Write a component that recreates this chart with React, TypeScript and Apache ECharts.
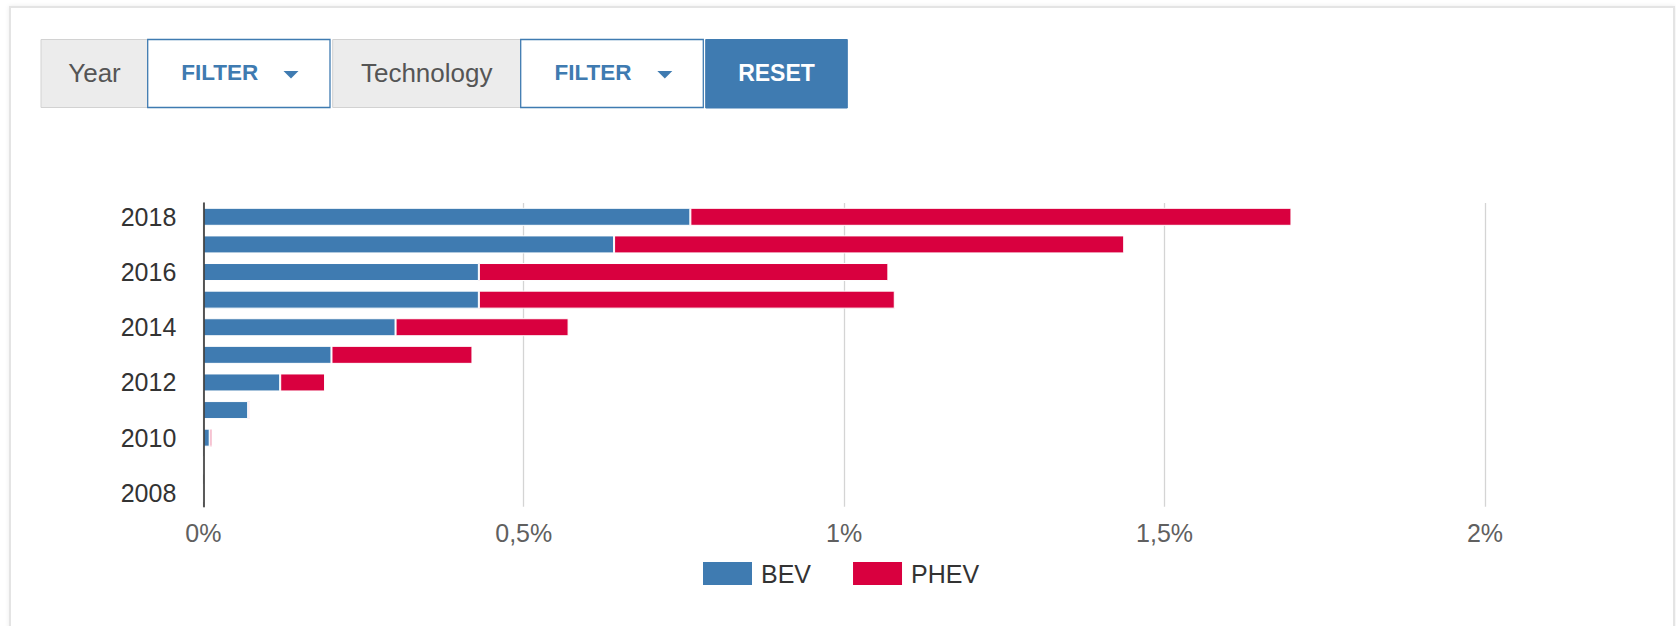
import React, { useEffect, useRef } from "react";
import * as echarts from "echarts";

const years = ["2008", "2009", "2010", "2011", "2012", "2013", "2014", "2015", "2016", "2017", "2018"];
const bevValues = [0, 0, 0.01, 0.07, 0.12, 0.2, 0.3, 0.43, 0.43, 0.641, 0.76];
const phevValues = [0, 0, 0.004, 0.003, 0.07, 0.22, 0.27, 0.649, 0.639, 0.796, 0.938];
const seriesNames = ["BEV", "PHEV"];
const filterLabels = ["Year", "FILTER", "Technology", "FILTER", "RESET"];

const BLUE = "#3f7bb1";
const RED = "#d9003f";
const FONT = "'Liberation Sans', Arial, sans-serif";

function caret(x: number, y: number) {
  return {
    type: "polygon",
    shape: { points: [[x, y], [x + 15, y], [x + 7.5, y + 7.5]] },
    style: { fill: BLUE },
    silent: true,
  };
}

export default function App() {
  const ref = useRef<HTMLDivElement>(null);

  useEffect(() => {
    if (!ref.current) return;
    const chart = echarts.init(ref.current, null, { renderer: "svg" });
    const cellY = 39.5;
    const cellH = 68;
    const textY = 72.8;
    const option: any = {
      animation: false,
      textStyle: { fontFamily: FONT },
      graphic: [
        {
          type: "rect",
          shape: { x: 10, y: 7, width: 1664, height: 680 },
          style: { fill: "#fff", stroke: "#e4e4e4", lineWidth: 2, shadowBlur: 4, shadowColor: "rgba(0,0,0,0.08)" },
          z: -10,
          silent: true,
        },
        { type: "rect", shape: { x: 41, y: cellY, width: 106.5, height: cellH }, style: { fill: "#ececec", stroke: "#d2d2d2", lineWidth: 1 } },
        { type: "rect", shape: { x: 147.7, y: cellY, width: 182.3, height: cellH }, style: { fill: "#fff", stroke: BLUE, lineWidth: 1.3 } },
        { type: "rect", shape: { x: 332.7, y: cellY, width: 188, height: cellH }, style: { fill: "#ececec", stroke: "#d2d2d2", lineWidth: 1 } },
        { type: "rect", shape: { x: 520.7, y: cellY, width: 182.6, height: cellH }, style: { fill: "#fff", stroke: BLUE, lineWidth: 1.3 } },
        { type: "rect", shape: { x: 705.7, y: cellY, width: 141.6, height: cellH + 0.5 }, style: { fill: BLUE, stroke: BLUE, lineWidth: 1 } },
        { type: "text", x: 94.5, y: textY, style: { text: filterLabels[0], fill: "#555", font: `26px ${FONT}`, textAlign: "center", textVerticalAlign: "middle" } },
        { type: "text", x: 219.7, y: textY, style: { text: filterLabels[1], fill: BLUE, font: `bold 22.5px ${FONT}`, textAlign: "center", textVerticalAlign: "middle" } },
        caret(283.5, 71),
        { type: "text", x: 426.7, y: textY, style: { text: filterLabels[2], fill: "#555", font: `26px ${FONT}`, textAlign: "center", textVerticalAlign: "middle" } },
        { type: "text", x: 593, y: textY, style: { text: filterLabels[3], fill: BLUE, font: `bold 22.5px ${FONT}`, textAlign: "center", textVerticalAlign: "middle" } },
        caret(657.3, 71),
        { type: "text", x: 776.5, y: textY, style: { text: filterLabels[4], fill: "#fff", font: `bold 23px ${FONT}`, textAlign: "center", textVerticalAlign: "middle" } },
      ],
      grid: { left: 203.3, right: 191, top: 203, bottom: 119.3, containLabel: false },
      legend: {
        data: seriesNames,
        left: 696,
        top: 555,
        icon: "rect",
        itemWidth: 51,
        itemHeight: 25,
        itemGap: 40,
        textStyle: { fontSize: 25, color: "#333", padding: [0, 0, 0, 3], fontFamily: FONT },
      },
      xAxis: {
        type: "value",
        min: 0,
        max: 2,
        interval: 0.5,
        axisLine: { show: false },
        axisTick: { show: false },
        splitLine: { show: true, lineStyle: { color: "#d4d4d4", width: 1.3 } },
        axisLabel: {
          fontSize: 25,
          color: "#606060",
          margin: 14,
          fontFamily: FONT,
          formatter: (v: number) => String(v).replace(".", ",") + "%",
        },
      },
      yAxis: {
        type: "category",
        data: years,
        z: 5,
        axisLine: { show: true, lineStyle: { color: "#333", width: 1.6 } },
        axisTick: { show: false },
        axisLabel: { fontSize: 25, color: "#333", margin: 27, interval: 1, fontFamily: FONT },
      },
      series: [
        {
          name: seriesNames[0],
          type: "bar",
          stack: "total",
          barWidth: 18,
          data: bevValues,
          itemStyle: { color: BLUE, borderColor: "#fff", borderWidth: 1 },
        },
        {
          name: seriesNames[1],
          type: "bar",
          stack: "total",
          barWidth: 18,
          data: phevValues,
          itemStyle: { color: RED, borderColor: "#fff", borderWidth: 1 },
        },
      ],
    };
    chart.setOption(option);
    return () => chart.dispose();
  }, []);

  return (
    <div
      ref={ref}
      style={{ position: "absolute", left: 0, top: 0, width: 1676, height: 626, background: "#fff" }}
    />
  );
}
